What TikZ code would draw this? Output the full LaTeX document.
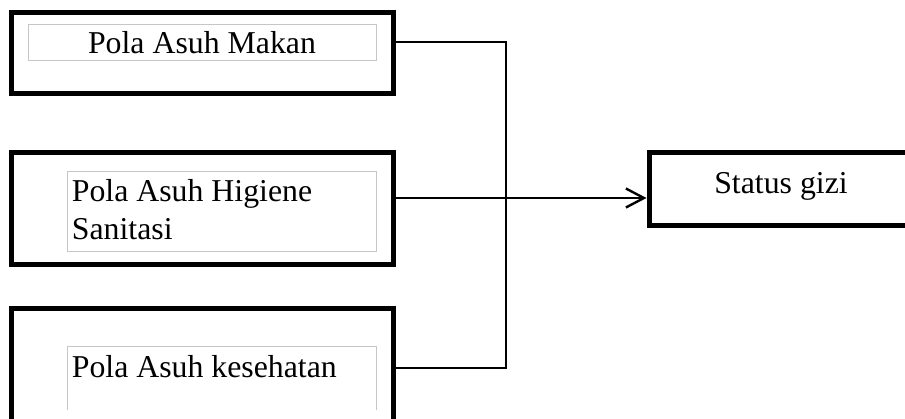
\documentclass[tikz,border=0pt]{standalone}
\usepackage{fontspec}
\setmainfont{Liberation Serif}
\usetikzlibrary{arrows.meta}
\begin{document}
\begin{tikzpicture}[x=1pt,y=-1pt,
  outerbox/.style={draw=black,line width=5pt,inner sep=0pt,minimum width=382pt},
  innerbox/.style={draw=gray!45,line width=0.8pt,inner sep=0pt},
  innerline/.style={draw=gray!45,line width=0.8pt},
  txt/.style={font=\fontsize{31.8pt}{38pt}\selectfont,inner sep=0pt},
  conn/.style={line width=1.8pt,draw=black}]
\path[use as bounding box,clip] (0,0) rectangle (905,418);
% outer boxes
\node[outerbox,minimum height=80.5pt] (b1) at (202.5,52.75) {};
\node[outerbox,minimum height=111.5pt] (b2) at (202.5,208.25) {};
\node[outerbox,minimum height=122pt] (b3) at (202.5,369) {};
\node[outerbox,minimum width=270pt,minimum height=72.5pt] (st) at (784,188.75) {};
% inner boxes
\node[innerbox,minimum width=348pt,minimum height=36pt] (i1) at (202,42) {};
\node[innerbox,minimum width=309pt,minimum height=79.3pt] (i2) at (221.5,211.35) {};
\draw[innerline] (67,410) -- (67,346) -- (376,346) -- (376,410);
% texts
\node[txt,anchor=base] (t1) at (202,53.3) {Pola Asuh Makan};
\node[txt,anchor=base west] (t2a) at (71.7,201.7) {Pola Asuh Higiene};
\node[txt,anchor=base west] (t2b) at (71.7,239) {Sanitasi};
\node[txt,anchor=base west] (t3) at (71.7,377.3) {Pola Asuh kesehatan};
\node[txt,anchor=base] (t4) at (781,193) {Status gizi};
% connectors
\coordinate (jt) at (506,42);
\coordinate (jb) at (506,368);
\coordinate (ja) at (506,198);
\draw[conn] (jt -| b1.east) -- (jt) -- (jb) -- (jb -| b3.east);
\draw[conn,-{Straight Barb[length=18pt,width=19pt,line width=2.4pt]}] (ja -| b2.east) -- (ja -| st.west);
\end{tikzpicture}
\end{document}
